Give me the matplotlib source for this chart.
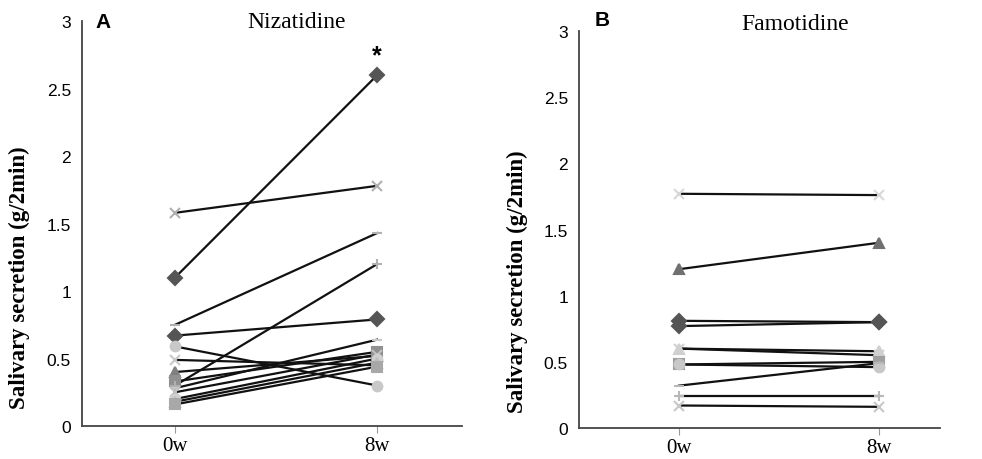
import matplotlib
matplotlib.use("Agg")
import matplotlib.pyplot as plt

# Nizatidine subjects: value at 0w and 8w, marker, marker colour
niz_0w = [1.10, 1.58, 0.75, 0.67, 0.59, 0.49, 0.40, 0.33, 0.30, 0.28, 0.25, 0.20, 0.18, 0.16]
niz_8w = [2.60, 1.78, 1.43, 0.79, 0.30, 0.45, 0.52, 0.55, 1.20, 0.64, 0.53, 0.50, 0.47, 0.44]
niz_mk = ['D', 'x', '_', 'D', 'o', 'x', '^', 's', '+', '_', 'x', 'o', '^', 's']
niz_col = ['#555555', '#b0b0b0', '#b0b0b0', '#555555', '#c8c8c8', '#c8c8c8', '#808080',
           '#909090', '#b0b0b0', '#c8c8c8', '#c0c0c0', '#d0d0d0', '#c0c0c0', '#a8a8a8']

# Famotidine subjects
fam_0w = [1.77, 1.20, 0.81, 0.77, 0.60, 0.60, 0.48, 0.48, 0.32, 0.24, 0.17]
fam_8w = [1.76, 1.40, 0.80, 0.80, 0.58, 0.55, 0.50, 0.46, 0.49, 0.24, 0.16]
fam_mk = ['x', '^', 'D', 'D', '^', 'x', 's', 'o', '_', '+', 'x']
fam_col = ['#d8d8d8', '#707070', '#555555', '#555555', '#d0d0d0', '#d0d0d0', '#a0a0a0',
           '#c8c8c8', '#b8b8b8', '#b8b8b8', '#c8c8c8']

times = [0, 1]
xlabels = ['0w', '8w']
yticks = [0, 0.5, 1, 1.5, 2, 2.5, 3]
ylabels = ['0', '0.5', '1', '1.5', '2', '2.5', '3']

serif = 'Liberation Serif'
sans = 'Liberation Sans'


def panel(ax, v0, v8, mk, col, xlim, label_xy):
    for a, b, m, c in zip(v0, v8, mk, col):
        ax.plot(times, [a, b], color='#111111', lw=1.6, zorder=2)
        ax.plot(times, [a, b], ls='none', marker=m, ms=7, mew=1.5,
                color=c, mec=c, zorder=3)
    ax.set_xlim(*xlim)
    ax.set_ylim(0, 3)
    ax.set_xticks(times)
    ax.set_xticklabels(xlabels, fontfamily=serif, fontsize=15)
    ax.set_yticks(yticks)
    ax.set_yticklabels(ylabels, fontfamily=sans, fontsize=12.5)
    ax.tick_params(axis='y', length=0, pad=8)
    ax.tick_params(axis='x', length=5, color='#999999', direction='out', pad=2)
    for s in ['top', 'right']:
        ax.spines[s].set_visible(False)
    for s in ['left', 'bottom']:
        ax.spines[s].set_color('#444444')
        ax.spines[s].set_linewidth(1.3)
    ax.set_ylabel('Salivary secretion (g/2min)', fontfamily=serif,
                  fontweight='bold', fontsize=16.5)
    ax.yaxis.set_label_coords(*label_xy)


fig = plt.figure(figsize=(9.82, 4.6), dpi=100)

axA = fig.add_axes([0.0835, 0.0717, 0.387, 0.880])
panel(axA, niz_0w, niz_8w, niz_mk, niz_col, (-0.46, 1.42), (-0.137, 0.37))
axA.text(0.566, 1.0, 'Nizatidine', transform=axA.transAxes, ha='center',
         va='center', fontfamily=serif, fontsize=17)
axA.text(0.055, 1.0, 'A', transform=axA.transAxes, ha='center', va='center',
         fontfamily=sans, fontweight='bold', fontsize=15)
axA.text(1, 2.75, '*', ha='center', va='center', fontfamily=sans,
         fontweight='bold', fontsize=18)

axB = fig.add_axes([0.5896, 0.0674, 0.3676, 0.863])
panel(axB, fam_0w, fam_8w, fam_mk, fam_col, (-0.5, 1.305), (-0.141, 0.37))
axB.text(0.598, 1.018, 'Famotidine', transform=axB.transAxes, ha='center',
         va='center', fontfamily=serif, fontsize=17)
axB.text(0.064, 1.03, 'B', transform=axB.transAxes, ha='center', va='center',
         fontfamily=sans, fontweight='bold', fontsize=15)

fig.savefig('out.png', dpi=100)
